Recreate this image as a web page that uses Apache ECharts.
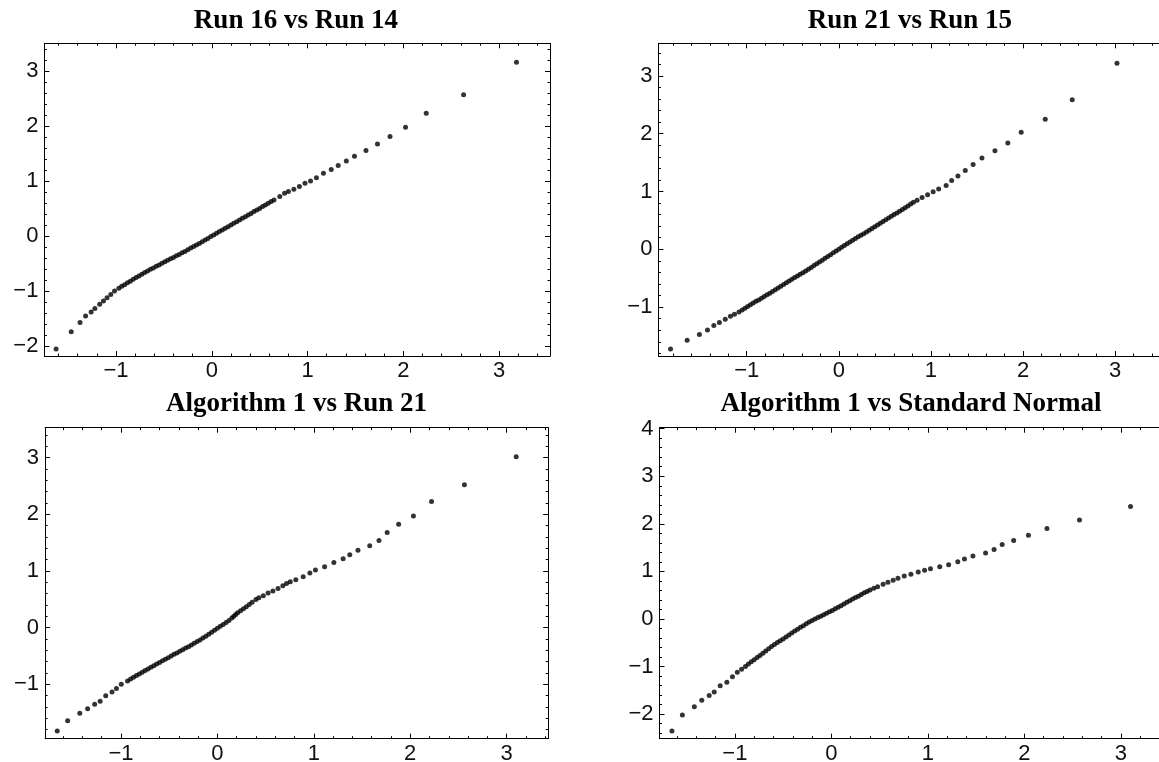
<!DOCTYPE html>
<head>
    <meta charset="utf-8"/>
    <style>
        html, body {
            margin: 0;
            height: 100%;
            background-color: #fff;
        }
        #main {
            width: 1159px;
            height: 762px;
        }
    </style>
    <script src="https://cdn.jsdelivr.net/npm/echarts@6/dist/echarts.min.js"></script>
</head>
<body>
<div id="main"></div>
<script type="text/javascript">
// panel titles
var titles = ['Run 16 vs Run 14', 'Run 21 vs Run 15', 'Algorithm 1 vs Run 21', 'Algorithm 1 vs Standard Normal'];

// tick values (labels on the integers, small ticks every 0.2)
var majorTicks = [-3, -2, -1, 0, 1, 2, 3, 4];
var minorTicks = [];
for (var i = -15; i <= 23; i++) {
    if (i % 5 !== 0) minorTicks.push(i / 5);
}

// Run 16 vs Run 14 (x = run 14 quantiles, y = run 16 quantiles)
var run14 = [-1.625, -1.467, -1.375, -1.317, -1.259, -1.220, -1.170, -1.131, -1.093, -1.054, -1.015,
    -0.97, -0.94, -0.91, -0.88, -0.85, -0.82, -0.79, -0.76, -0.73, -0.70, -0.67, -0.64, -0.61, -0.58,
    -0.55, -0.52, -0.49, -0.46, -0.43, -0.40, -0.37, -0.34, -0.31, -0.28, -0.25, -0.22, -0.19, -0.16,
    -0.13, -0.10, -0.07, -0.04, -0.01, 0.02, 0.05, 0.08, 0.11, 0.14, 0.17, 0.20, 0.23, 0.26, 0.29,
    0.32, 0.35, 0.38, 0.41, 0.44, 0.47, 0.50, 0.53, 0.56, 0.59, 0.62, 0.65,
    0.71, 0.76, 0.80, 0.857, 0.915, 0.973, 1.031, 1.093, 1.166, 1.247, 1.320, 1.405, 1.490, 1.610,
    1.730, 1.861, 2.023, 2.239, 2.629, 3.181];
var run16 = [-2.055, -1.739, -1.570, -1.455, -1.382, -1.315, -1.242, -1.182, -1.121, -1.061, -1.0,
    -0.95, -0.915, -0.885, -0.85, -0.82, -0.785, -0.755, -0.725, -0.695, -0.665, -0.635, -0.605, -0.58, -0.55,
    -0.525, -0.495, -0.47, -0.44, -0.415, -0.39, -0.36, -0.335, -0.305, -0.28, -0.25, -0.22, -0.19, -0.165,
    -0.135, -0.105, -0.075, -0.045, -0.01, 0.02, 0.05, 0.08, 0.11, 0.14, 0.17, 0.20, 0.23, 0.26, 0.29,
    0.32, 0.35, 0.38, 0.41, 0.445, 0.47, 0.50, 0.535, 0.565, 0.595, 0.625, 0.655,
    0.715, 0.776, 0.81, 0.848, 0.897, 0.958, 1.0, 1.06, 1.139, 1.206, 1.279, 1.364, 1.448, 1.552,
    1.673, 1.806, 1.976, 2.230, 2.564, 3.158];

// Run 21 vs Run 15
var run15 = [-1.827, -1.647, -1.514, -1.426, -1.357, -1.297, -1.233, -1.177, -1.133, -1.084,
    -1.05, -1.02, -0.99, -0.96, -0.93, -0.90, -0.87, -0.84, -0.81, -0.78, -0.75, -0.72, -0.69, -0.66,
    -0.63, -0.60, -0.57, -0.54, -0.51, -0.48, -0.45, -0.42, -0.39, -0.36, -0.33, -0.30, -0.27, -0.24,
    -0.21, -0.18, -0.15, -0.12, -0.09, -0.06, -0.03, 0.00, 0.03, 0.06, 0.09, 0.12, 0.15, 0.18, 0.21,
    0.24, 0.27, 0.30, 0.33, 0.36, 0.39, 0.42, 0.45, 0.48, 0.51, 0.54, 0.57, 0.60, 0.63, 0.66, 0.69,
    0.72, 0.75, 0.78, 0.81,
    0.85, 0.904, 0.964, 1.024, 1.084, 1.165, 1.225, 1.293, 1.373, 1.458, 1.554, 1.695, 1.835, 1.980,
    2.241, 2.534, 3.02];
var run21 = [-1.723, -1.573, -1.476, -1.395, -1.320, -1.268, -1.210, -1.159, -1.124, -1.084,
    -1.05, -1.02, -0.99, -0.96, -0.93, -0.90, -0.875, -0.845, -0.815, -0.785, -0.76, -0.73, -0.70, -0.67,
    -0.64, -0.61, -0.58, -0.55, -0.52, -0.49, -0.46, -0.43, -0.405, -0.375, -0.345, -0.315, -0.28, -0.25,
    -0.22, -0.19, -0.155, -0.125, -0.095, -0.06, -0.03, 0.00, 0.035, 0.065, 0.095, 0.125, 0.155, 0.185, 0.215,
    0.245, 0.27, 0.30, 0.33, 0.36, 0.39, 0.42, 0.45, 0.48, 0.51, 0.54, 0.57, 0.60, 0.63, 0.66, 0.69,
    0.72, 0.75, 0.785, 0.815,
    0.85, 0.895, 0.945, 0.995, 1.045, 1.105, 1.19, 1.270, 1.362, 1.466, 1.578, 1.706, 1.839, 2.023,
    2.248, 2.588, 3.218];

// Algorithm 1 vs Run 21
var algoA = [-1.661, -1.553, -1.427, -1.346, -1.273, -1.216, -1.158, -1.093, -1.047, -0.997, -0.932,
    -0.90, -0.87, -0.84, -0.81, -0.78, -0.75, -0.72, -0.69, -0.66, -0.63, -0.60, -0.57, -0.54, -0.51,
    -0.48, -0.45, -0.42, -0.39, -0.36, -0.33, -0.30, -0.27, -0.24, -0.21, -0.18, -0.15, -0.12, -0.09,
    -0.06, -0.03, 0.00, 0.03, 0.06, 0.09, 0.12, 0.15, 0.17, 0.19, 0.21, 0.24, 0.27, 0.30, 0.33, 0.36,
    0.40, 0.43, 0.476, 0.526, 0.576, 0.629, 0.679, 0.717, 0.756, 0.813, 0.890, 0.959, 1.017, 1.112,
    1.208, 1.304, 1.373, 1.458, 1.580, 1.676, 1.761, 1.880, 2.033, 2.221, 2.562, 3.099];
var run21b = [-1.824, -1.641, -1.512, -1.429, -1.353, -1.300, -1.2, -1.135, -1.071, -1.0, -0.941,
    -0.905, -0.875, -0.845, -0.815, -0.785, -0.755, -0.73, -0.70, -0.67, -0.64, -0.615, -0.585, -0.555, -0.53,
    -0.50, -0.47, -0.445, -0.415, -0.39, -0.36, -0.335, -0.305, -0.275, -0.245, -0.215, -0.18, -0.15, -0.115,
    -0.08, -0.045, -0.01, 0.025, 0.055, 0.09, 0.125, 0.17, 0.20, 0.235, 0.265, 0.30, 0.335, 0.37, 0.41, 0.45,
    0.50, 0.53, 0.565, 0.612, 0.647, 0.694, 0.741, 0.782, 0.812, 0.847, 0.9, 0.965, 1.018, 1.076,
    1.153, 1.218, 1.288, 1.365, 1.447, 1.541, 1.682, 1.824, 1.971, 2.229, 2.524, 3.018];

// Algorithm 1 vs Standard Normal
var algoB = [-1.652, -1.544, -1.42, -1.343, -1.266, -1.214, -1.152, -1.083, -1.025, -0.975, -0.93,
    -0.89, -0.86, -0.83, -0.80, -0.77, -0.74, -0.71, -0.68, -0.65, -0.62, -0.59, -0.56, -0.53, -0.50,
    -0.47, -0.44, -0.41, -0.38, -0.35, -0.32, -0.29, -0.26, -0.23, -0.20, -0.17, -0.14, -0.11, -0.08,
    -0.05, -0.02, 0.01, 0.04, 0.07, 0.10, 0.13, 0.16, 0.19, 0.22, 0.25, 0.28, 0.31, 0.34, 0.37, 0.40,
    0.44, 0.479, 0.536, 0.586, 0.640, 0.690, 0.755, 0.824, 0.900, 0.966, 1.027, 1.123, 1.215, 1.310,
    1.379, 1.467, 1.598, 1.686, 1.770, 1.889, 2.042, 2.234, 2.571, 3.10];
var normal = [-2.355, -2.018, -1.843, -1.71, -1.608, -1.532, -1.405, -1.328, -1.215, -1.12, -1.055,
    -1.00, -0.945, -0.90, -0.855, -0.81, -0.765, -0.72, -0.675, -0.625, -0.58, -0.535, -0.495, -0.46, -0.42,
    -0.38, -0.335, -0.295, -0.255, -0.215, -0.175, -0.14, -0.10, -0.065, -0.03, 0.00, 0.03, 0.06, 0.09,
    0.12, 0.15, 0.18, 0.215, 0.245, 0.28, 0.315, 0.35, 0.385, 0.42, 0.45, 0.48, 0.515, 0.55, 0.58, 0.61,
    0.645, 0.680, 0.729, 0.771, 0.813, 0.855, 0.904, 0.939, 0.988, 1.023, 1.058, 1.100, 1.142, 1.205,
    1.261, 1.324, 1.388, 1.458, 1.563, 1.647, 1.759, 1.899, 2.081, 2.362];

var panels = [
    {xs: run14, ys: run16, left: 44.4, top: 43.3, width: 505.6, height: 312.7, xr: [-1.747, 3.531], yr: [-2.18, 3.50]},
    {xs: run15, ys: run21, left: 658.4, top: 43.3, width: 512, height: 312.7, xr: [-1.959, 3.60], yr: [-1.846, 3.564]},
    {xs: algoA, ys: run21b, left: 45.1, top: 427.7, width: 503.1, height: 311, xr: [-1.787, 3.431], yr: [-1.959, 3.53]},
    {xs: algoB, ys: normal, left: 659.5, top: 427.7, width: 505, height: 311, xr: [-1.781, 3.452], yr: [-2.516, 4.02]}
];

var lineColor = '#000';
function minusSign(v) {
    return String(v).replace('-', '\u2212');
}

function makeAxis(dim, g, position, range, major, withLine, withLabel) {
    return {
        type: 'value',
        gridIndex: g,
        position: position,
        min: range[0],
        max: range[1],
        splitLine: {show: false},
        axisLine: {show: withLine, onZero: false, lineStyle: {color: lineColor, width: 1}},
        axisTick: {
            show: true,
            inside: true,
            length: major ? 5 : 2.5,
            customValues: major ? majorTicks : minorTicks,
            lineStyle: {color: lineColor, width: 1}
        },
        axisLabel: {
            show: withLabel,
            customValues: majorTicks,
            formatter: minusSign,
            margin: dim === 'x' ? 4 : 6,
            color: '#111',
            fontFamily: 'Liberation Sans',
            fontSize: 22
        }
    };
}

var grids = [], xAxes = [], yAxes = [], series = [], titleList = [];
panels.forEach(function (p, g) {
    grids.push({left: p.left, top: p.top, width: p.width, height: p.height, containLabel: false, outerBoundsMode: 'none'});
    xAxes.push(makeAxis('x', g, 'bottom', p.xr, true, true, true));
    xAxes.push(makeAxis('x', g, 'bottom', p.xr, false, false, false));
    xAxes.push(makeAxis('x', g, 'top', p.xr, true, true, false));
    xAxes.push(makeAxis('x', g, 'top', p.xr, false, false, false));
    yAxes.push(makeAxis('y', g, 'left', p.yr, true, true, true));
    yAxes.push(makeAxis('y', g, 'left', p.yr, false, false, false));
    yAxes.push(makeAxis('y', g, 'right', p.yr, true, true, false));
    yAxes.push(makeAxis('y', g, 'right', p.yr, false, false, false));
    var pts = [];
    for (var k = 0; k < p.xs.length; k++) pts.push([p.xs[k], p.ys[k]]);
    series.push({
        type: 'scatter',
        xAxisIndex: g * 4,
        yAxisIndex: g * 4,
        data: pts,
        symbol: 'circle',
        symbolSize: 5,
        itemStyle: {color: '#000'},
        silent: true
    });
    titleList.push({
        text: titles[g],
        left: p.left + 251.5,
        top: g < 2 ? 8 : 391,
        textAlign: 'center',
        padding: 0,
        textStyle: {fontFamily: 'Liberation Serif', fontWeight: 'bold', fontSize: 27, color: '#000'}
    });
});

var myChart = echarts.init(document.getElementById('main'));
myChart.setOption({
    backgroundColor: '#fff',
    animation: false,
    title: titleList,
    grid: grids,
    xAxis: xAxes,
    yAxis: yAxes,
    series: series
});
</script>
</body>
